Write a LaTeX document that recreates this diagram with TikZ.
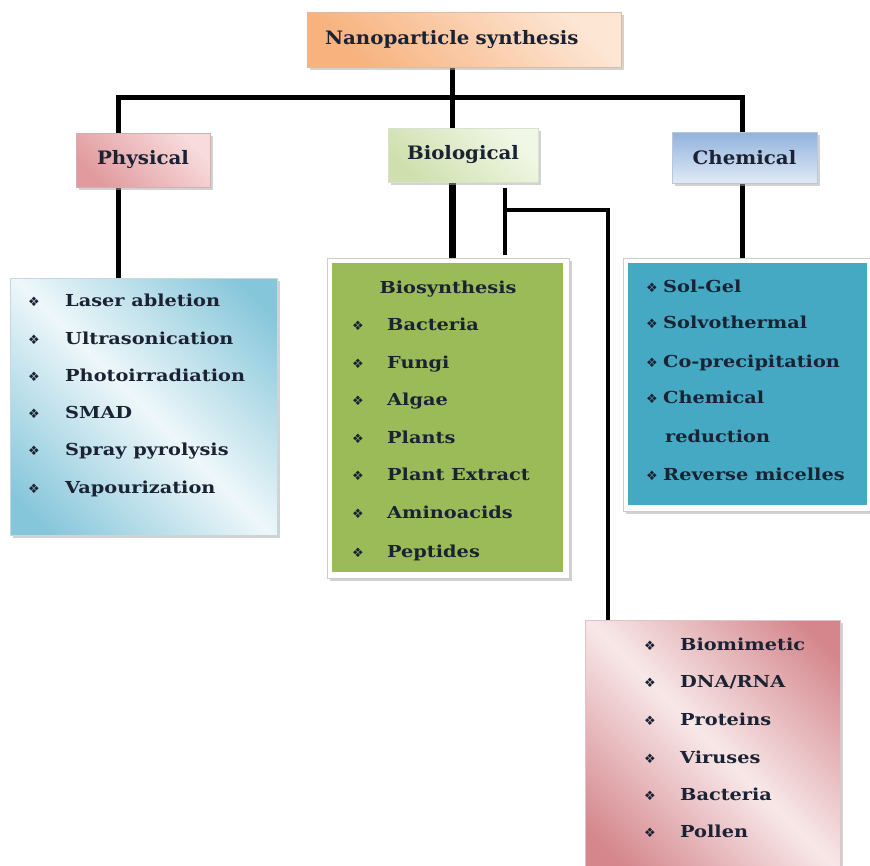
\documentclass[tikz,border=0pt]{standalone}
\usepackage{fontspec}
\setmainfont{DejaVu Serif}
\newfontfamily\symfont{DejaVu Sans}
\newfontfamily\itemfont{DejaVu Serif Bold}[FakeStretch=1.17]
\newfontfamily\hdrfont{DejaVu Serif Bold}[FakeStretch=1.07]
\usetikzlibrary{shadows,backgrounds}
\definecolor{txt}{HTML}{1B2233}
\definecolor{orD}{HTML}{F7B27E}
\definecolor{orL}{HTML}{FDE6D4}
\definecolor{pkD}{HTML}{E19A9E}
\definecolor{pkL}{HTML}{F8DCDD}
\definecolor{grD}{HTML}{CFE0AE}
\definecolor{grL}{HTML}{F1F7E6}
\definecolor{blD}{HTML}{92B2DC}
\definecolor{blL}{HTML}{E0EAF6}
\definecolor{cyD}{HTML}{86C6DA}
\definecolor{cyL}{HTML}{EEF7FA}
\definecolor{leaf}{HTML}{9BBB59}
\definecolor{teal}{HTML}{45A9C3}
\definecolor{roD}{HTML}{D4868C}
\definecolor{roL}{HTML}{F8E8E9}
\pgfdeclarehorizontalshading{cydiag}{100bp}{color(0bp)=(cyD); color(20bp)=(cyD); color(50bp)=(cyL); color(80bp)=(cyD); color(100bp)=(cyD)}
\pgfdeclarehorizontalshading{rodiag}{100bp}{color(0bp)=(roD); color(20bp)=(roD); color(50bp)=(roL); color(80bp)=(roD); color(100bp)=(roD)}
\tikzset{
  shd/.style={drop shadow={shadow xshift=3pt,shadow yshift=-3pt,fill=black!35,opacity=.5}},
  hdr/.style={shd,inner sep=0pt,font=\hdrfont\fontsize{18.5}{22}\selectfont,text=txt},
  lst/.style={inner sep=0pt},
  item/.style={anchor=base west,inner sep=0pt,font=\itemfont\fontsize{16.5}{20}\selectfont,text=txt},
  bul/.style={anchor=base west,inner sep=0pt,font=\symfont\fontsize{13}{15}\selectfont,text=txt},
  conn/.style={line width=5pt,black},
  thinconn/.style={line width=3.5pt,black},
}
\begin{document}
\begin{tikzpicture}[x=1pt,y=1pt]
\useasboundingbox (0,0) rectangle (870,-865);
% header boxes
\node[hdr,draw=orD!80!black!60,top color=orL,bottom color=orD,shading angle=-45,
      minimum height=55pt,text width=278pt,inner xsep=18pt,align=left] (nano) at (464,-39.5) {Nanoparticle synthesis};
\node[hdr,draw=pkD!80!black!60,top color=pkL,bottom color=pkD,shading angle=-45,
      minimum width=134pt,minimum height=54pt] (phys) at (143,-160) {Physical};
\node[hdr,draw=grD!80!black!40,top color=grL,bottom color=grD,shading angle=-45,
      minimum width=150pt,minimum height=54pt] (bio) at (463,-155) {Biological};
\node[hdr,draw=blD!80!black!50,top color=blD,bottom color=blL,
      minimum width=145pt,minimum height=51pt] (chem) at (744.5,-157.5) {Chemical};
% list boxes
\node[lst,shd,draw=cyD!80!black!40,shading=cydiag,shading angle=45,
      minimum width=267pt,minimum height=257pt] (physlist) at (143.5,-406.5) {};
\node[lst,shd,fill=white,draw=black!20,minimum width=242pt,minimum height=320pt] (bioframe) at (448,-418) {};
\node[lst,fill=leaf,minimum width=231pt,minimum height=309pt] (biolist) at (447.5,-417.5) {};
\node[lst,shd,fill=white,draw=black!20,minimum width=247pt,minimum height=253pt] (chemframe) at (746.5,-384.5) {};
\node[lst,fill=teal,minimum width=239pt,minimum height=242pt] (chemlist) at (747.5,-384) {};
\node[lst,shd,draw=roD!80!black!40,shading=rodiag,shading angle=45,
      minimum width=255pt,minimum height=250pt] (pinklist) at (712.5,-745) {};
% physical items
\foreach \t/\y [count=\i] in {Laser abletion/306,Ultrasonication/344,Photoirradiation/381,SMAD/418,Spray pyrolysis/455,Vapourization/493}{
  \node[bul] (pb\i) at (28,-\y) {❖};
  \node[item] (pt\i) at (65,-\y) {\t};
}
% biological items
\node[item,anchor=base] (bt0) at (448,-293) {Biosynthesis};
\foreach \t/\y [count=\i] in {Bacteria/330,Fungi/368,Algae/405,Plants/443,Plant Extract/480,Aminoacids/518,Peptides/557}{
  \node[bul] (bb\i) at (352,-\y) {❖};
  \node[item] (bt\i) at (387,-\y) {\t};
}
% chemical items
\foreach \t/\y [count=\i] in {Sol-Gel/292,Solvothermal/328,Co-precipitation/367,Chemical/403,Reverse micelles/480}{
  \node[bul] (cb\i) at (646,-\y) {❖};
  \node[item] (ct\i) at (663,-\y) {\t};
}
\node[item] (ct6) at (665,-442) {reduction};
% pink items
\foreach \t/\y [count=\i] in {Biomimetic/650,{DNA/RNA}/687,Proteins/725,Viruses/763,Bacteria/800,Pollen/837}{
  \node[bul] (rb\i) at (644,-\y) {❖};
  \node[item] (rt\i) at (680,-\y) {\t};
}
% connectors
\coordinate (j0) at (452,-97);
\coordinate (jl) at (118,-97);
\coordinate (jr) at (742,-97);
\coordinate (b1) at (505,-188);
\coordinate (b2) at (505,-255);
\coordinate (b3) at (505,-210);
\coordinate (b4) at (608,-210);
\begin{pgfonlayer}{background}
\draw[conn] (nano.south -| j0) -- (j0);
\draw[conn] (phys.north -| jl) -- (jl) -- (jr) -- (chem.north -| jr);
\draw[conn] (j0) -- (bio.north -| j0);
\draw[conn] (phys.south -| jl) -- (physlist.north -| jl);
\draw[conn,line width=7pt] (bio.south -| j0) -- (biolist.north -| j0);
\draw[conn] (chem.south -| jr) -- (chemlist.north -| jr);
\draw[thinconn] (b1) -- (b2);
\draw[thinconn] (b3) -- (b4) -- (pinklist.north -| b4);
\end{pgfonlayer}
\end{tikzpicture}
\end{document}
